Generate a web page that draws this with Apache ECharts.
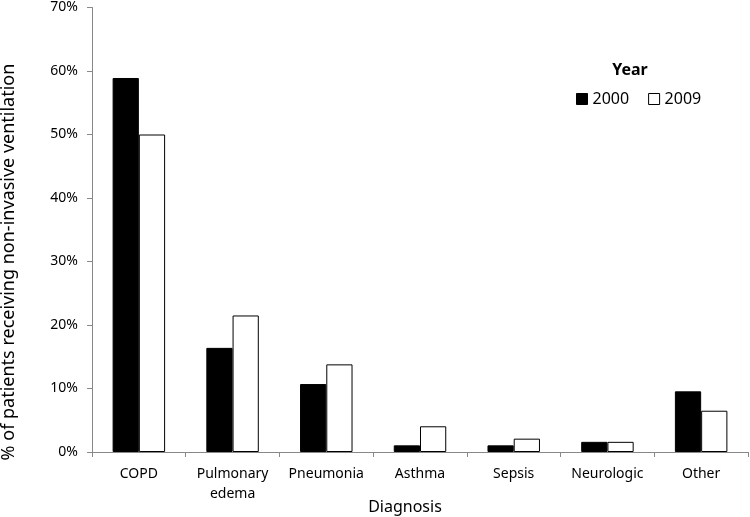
<!DOCTYPE html>
<html>
<head>
<meta charset="utf-8">
<script src="https://cdn.jsdelivr.net/npm/echarts@6/dist/echarts.min.js"></script>
<style>html,body{margin:0;padding:0;background:#fff}#c{width:750px;height:517px}</style>
</head>
<body>
<div id="c"></div>
<script>
const categories = ['COPD', 'Pulmonary\nedema', 'Pneumonia', 'Asthma', 'Sepsis', 'Neurologic', 'Other'];
const values2000 = [58.9, 16.4, 10.7, 1.05, 1.05, 1.6, 9.55];
const values2009 = [50.0, 21.5, 13.8, 4.05, 2.1, 1.6, 6.5];
const seriesNames = ['2000', '2009'];
const yTicks = [0, 10, 20, 30, 40, 50, 60, 70];

const FONT = '"Noto Sans", "Open Sans", sans-serif';
const chart = echarts.init(document.getElementById('c'), null, {renderer: 'canvas'});
chart.setOption({
  animation: false,
  backgroundColor: '#fff',
  textStyle: {fontFamily: FONT},
  grid: {left: 92, right: 2, top: 7.5, bottom: 65, containLabel: false},
  legend: {
    left: 571, top: 86,
    itemWidth: 11, itemHeight: 11, itemGap: 19,
    icon: 'rect',
    textStyle: {fontFamily: FONT, fontSize: 16, color: '#000'},
    data: [
      {name: seriesNames[0], itemStyle: {color: '#000', borderColor: '#000', borderWidth: 1}},
      {name: seriesNames[1], itemStyle: {color: '#fff', borderColor: '#000', borderWidth: 1}}
    ]
  },
  xAxis: {
    type: 'category',
    data: categories,
    axisLine: {lineStyle: {color: '#888', width: 1}},
    axisTick: {show: true, length: 5, lineStyle: {color: '#888'}},
    axisLabel: {fontFamily: FONT, fontSize: 14, color: '#000', margin: 12, lineHeight: 20, interval: 0}
  },
  yAxis: {
    type: 'value',
    min: yTicks[0], max: yTicks[yTicks.length - 1], interval: 10,
    splitLine: {show: false},
    axisLine: {show: true, lineStyle: {color: '#888', width: 1}},
    axisTick: {show: true, length: 5, lineStyle: {color: '#888'}},
    axisLabel: {fontFamily: FONT, fontSize: 14, color: '#000', margin: 14, formatter: '{value}%'}
  },
  graphic: [
    {type: 'text', x: 630, y: 70,
     style: {text: 'Year', font: 'bold 16px ' + FONT, fill: '#000', align: 'center', verticalAlign: 'middle'}},
    {type: 'text', x: 9, y: 262, rotation: Math.PI / 2,
     style: {text: '% of patients receiving non-invasive ventilation', font: '18px ' + FONT, fill: '#000', align: 'center', verticalAlign: 'middle'}},
    {type: 'text', x: 405, y: 507,
     style: {text: 'Diagnosis', font: '16px ' + FONT, fill: '#000', align: 'center', verticalAlign: 'middle'}}
  ],
  series: [
    {name: seriesNames[0], type: 'bar', data: values2000, barGap: '0%', barCategoryGap: '44%',
     itemStyle: {color: '#000', borderColor: '#000', borderWidth: 1}},
    {name: seriesNames[1], type: 'bar', data: values2009, barGap: '0%', barCategoryGap: '44%',
     itemStyle: {color: '#fff', borderColor: '#000', borderWidth: 1}}
  ]
});
</script>
</body>
</html>
